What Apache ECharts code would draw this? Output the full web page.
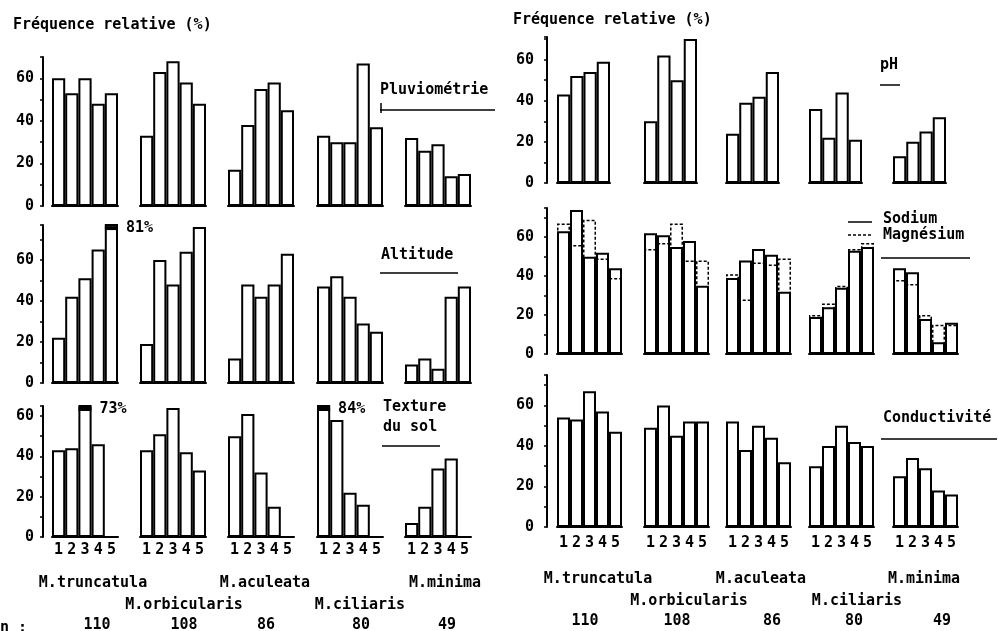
<!DOCTYPE html>
<html>
<head>
<meta charset="utf-8">
<title>Fréquence relative</title>
<script src="https://cdn.jsdelivr.net/npm/echarts@6/dist/echarts.min.js"></script>
<style>
html, body { margin: 0; padding: 0; background: #fff; }
#main { width: 999px; height: 631px; }
</style>
</head>
<body>
<div id="main"></div>
<script>
// donnees
var especes = ['M.truncatula', 'M.orbicularis', 'M.aculeata', 'M.ciliaris', 'M.minima'];
var effectifs = [110, 108, 86, 80, 49];
var classes = ['1', '2', '3', '4', '5'];
var classesPh = ['1', '2', '3', '4'];

var pluviometrie = [
    [60, 53, 60, 48, 53],
    [33, 63, 68, 58, 48],
    [17, 38, 55, 58, 45],
    [33, 30, 30, 67, 37],
    [32, 26, 29, 14, 15]
];
var altitude = [
    [22, 42, 51, 65, 81],
    [19, 60, 48, 64, 76],
    [12, 48, 42, 48, 63],
    [47, 52, 42, 29, 25],
    [9, 12, 7, 42, 47]
];
var texture = [
    [43, 44, 73, 46, '-'],
    [43, 51, 64, 42, 33],
    [50, 61, 32, 15, '-'],
    [84, 58, 22, 16, '-'],
    [7, 15, 34, 39, '-']
];
var ph = [
    [43, 52, 54, 59],
    [30, 62, 50, 70],
    [24, 39, 42, 54],
    [36, 22, 44, 21],
    [13, 20, 25, 32]
];
var sodium = [
    [63, 74, 50, 52, 44],
    [62, 61, 55, 58, 35],
    [39, 48, 54, 51, 32],
    [19, 24, 34, 53, 55],
    [44, 42, 18, 6, 16]
];
var magnesium = [
    [67, 56, 69, 49, 39],
    [54, 57, 67, 48, 48],
    [41, 28, 47, 46, 49],
    [20, 26, 35, 54, 57],
    [38, 36, 20, 15, 15]
];
var conductivite = [
    [54, 53, 67, 57, 47],
    [49, 60, 45, 52, 52],
    [52, 38, 50, 44, 32],
    [30, 40, 50, 42, 40],
    [25, 34, 29, 18, 16]
];
// barres coupees : [espece, classe, texte]
var coupesAltitude = [[0, 4, '81%']];
var coupesTexture = [[0, 2, '73%'], [3, 0, '84%']];

var police = 'DejaVu Sans Mono';
var noir = '#000';

var grids = [], xAxes = [], yAxes = [], series = [];

function barre(idx, vals, style) {
    return {
        type: 'bar',
        xAxisIndex: idx,
        yAxisIndex: idx,
        data: vals,
        barCategoryGap: '0%',
        barGap: '-100%',
        silent: true,
        itemStyle: style
    };
}

function ajouterLigne(row) {
    for (var g = 0; g < 5; g++) {
        var idx = grids.length;
        grids.push({left: row.lefts[g], top: row.top, width: row.width, height: row.bottom - row.top});
        xAxes.push({
            type: 'category', gridIndex: idx, data: row.cats,
            axisLine: {show: true, lineStyle: {color: noir, width: 2}},
            axisTick: {show: false},
            axisLabel: {show: !!row.showCats, margin: row.catMargin || 6, color: noir,
                fontFamily: police, fontWeight: 'bold', fontSize: 15}
        });
        yAxes.push({
            type: 'value', gridIndex: idx, min: 0, max: row.max, interval: 10,
            show: g === 0, offset: row.lefts[0] - row.axisX,
            splitLine: {show: false},
            axisLine: {show: true, lineStyle: {color: noir, width: 2}},
            axisTick: {show: true, length: 3, lineStyle: {color: noir, width: 1.5}},
            axisLabel: {
                margin: row.labelMargin, color: noir, fontFamily: police, fontWeight: 'bold', fontSize: 15,
                formatter: function (v) { return v % 20 === 0 ? v : ''; }
            }
        });
        if (row.second) {
            series.push(barre(idx, row.data[g], {color: 'rgba(0,0,0,0)', borderColor: noir, borderWidth: 2}));
            series.push(barre(idx, row.second[g], {color: 'rgba(0,0,0,0)', borderColor: noir, borderWidth: 1.5, borderType: [3, 2]}));
        } else {
            var s = barre(idx, row.data[g], {color: '#fff', borderColor: noir, borderWidth: 2});
            var marques = (row.coupes || []).filter(function (c) { return c[0] === g; });
            if (marques.length) {
                s.markPoint = {
                    symbol: 'rect',
                    symbolSize: [13, 4],
                    itemStyle: {color: noir},
                    label: {show: true, position: 'right', distance: 8, color: noir,
                        fontFamily: police, fontWeight: 'bold', fontSize: 15,
                        formatter: function (p) { return p.name; }},
                    data: marques.map(function (c) { return {name: c[2], coord: [c[1], row.max - 1.5]}; })
                };
            }
            series.push(s);
        }
    }
}

var gauche = [52, 140, 228, 317, 405];
var droite = [557, 644, 726, 809, 893];

ajouterLigne({data: pluviometrie, lefts: gauche, width: 66, top: 57, bottom: 206, max: 70, axisX: 43, labelMargin: 9, cats: classes});
ajouterLigne({data: altitude, lefts: gauche, width: 66, top: 225, bottom: 383, max: 77, axisX: 43, labelMargin: 9, cats: classes, coupes: coupesAltitude});
ajouterLigne({data: texture, lefts: gauche, width: 66, top: 406, bottom: 537, max: 65, axisX: 43, labelMargin: 9, cats: classes, coupes: coupesTexture, showCats: true, catMargin: 6});
ajouterLigne({data: ph, lefts: droite, width: 53, top: 37, bottom: 183, max: 71, axisX: 547, labelMargin: 13, cats: classesPh});
ajouterLigne({data: sodium, second: magnesium, lefts: droite, width: 65, top: 208, bottom: 354, max: 75, axisX: 547, labelMargin: 13, cats: classes});
ajouterLigne({data: conductivite, lefts: droite, width: 65, top: 375, bottom: 527, max: 75, axisX: 547, labelMargin: 13, cats: classes, showCats: true, catMargin: 9});

// textes et traits
var graphics = [];
function texte(x, y, str, align) {
    graphics.push({type: 'text', x: x, y: y, silent: true,
        style: {text: str, fill: noir, font: 'bold 15px "' + police + '"', textAlign: align || 'left', textVerticalAlign: 'middle'}});
}
function trait(x1, y1, x2, y2, dash) {
    graphics.push({type: 'line', silent: true, shape: {x1: x1, y1: y1, x2: x2, y2: y2},
        style: {stroke: noir, lineWidth: 1.5, lineDash: dash || null}});
}

texte(13, 25, 'Fréquence relative (%)');
texte(513, 20, 'Fréquence relative (%)');

texte(380, 90, 'Pluviométrie');
trait(380, 110, 495, 110);
trait(381, 103, 381, 113);
texte(381, 255, 'Altitude');
trait(380, 273, 458, 273);
texte(383, 407, 'Texture');
texte(383, 427, 'du sol');
trait(382, 446, 440, 446);

texte(880, 65, 'pH');
trait(880, 85, 900, 85);
trait(848, 222, 872, 222);
texte(883, 219, 'Sodium');
trait(848, 235, 872, 235, [3, 2]);
texte(883, 235, 'Magnésium');
trait(881, 258, 970, 258);
texte(883, 418, 'Conductivité');
trait(881, 439, 997, 439);

var nomsG = [93, 184, 265, 360, 445], nbG = [97, 184, 266, 361, 447];
var nomsD = [598, 689, 761, 857, 924], nbD = [585, 677, 772, 854, 942];
especes.forEach(function (e, i) {
    var bas = i % 2 === 1;
    texte(nomsG[i], bas ? 605 : 583, e, 'center');
    texte(nomsD[i], bas ? 601 : 579, e, 'center');
    texte(nbG[i], 625, String(effectifs[i]), 'center');
    texte(nbD[i], 621, String(effectifs[i]), 'center');
});
texte(0, 628, 'n :');

var chart = echarts.init(document.getElementById('main'));
chart.setOption({
    backgroundColor: '#fff',
    animation: false,
    grid: grids,
    xAxis: xAxes,
    yAxis: yAxes,
    series: series,
    graphic: graphics
});
</script>
</body>
</html>
